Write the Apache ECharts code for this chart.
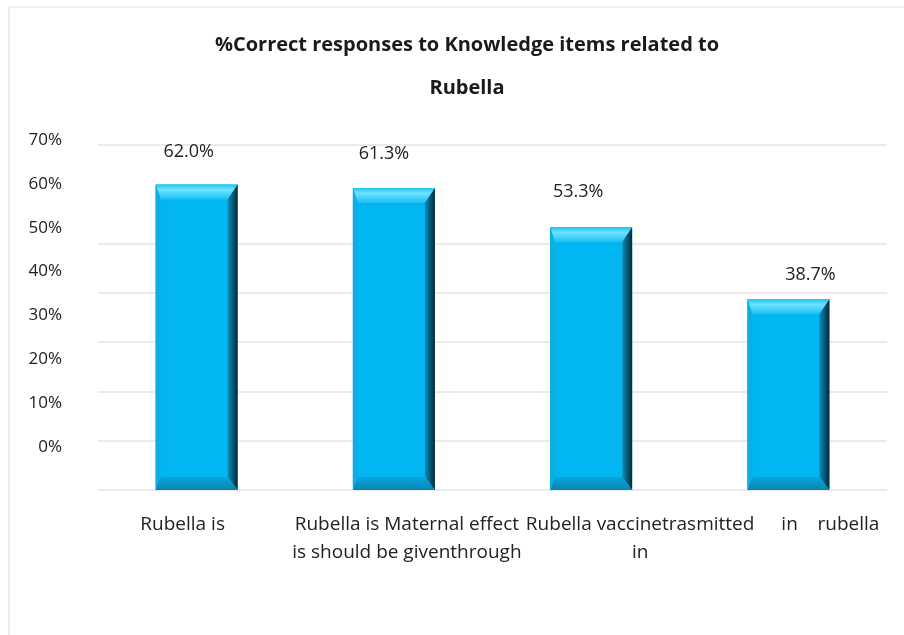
<!DOCTYPE html>
<html>
<head>
<meta charset="utf-8">
<script src="https://cdn.jsdelivr.net/npm/echarts@6/dist/echarts.min.js"></script>
<style>
  html, body { margin: 0; padding: 0; background: #fff; }
  #frame { position: absolute; left: 8px; top: 6px; width: 900px; height: 640px; border-left: 2px solid #ececec; border-top: 2px solid #f0f0f0; pointer-events: none; }
  #chart { position: absolute; left: 0; top: 0; width: 904px; height: 635px; }
</style>
</head>
<body>
<div id="chart"></div>
<div id="frame"></div>
<script>
// ---- data ----
const categories = [
  "Rubella is",
  "Rubella is Maternal effect\nis should be giventhrough",
  "Rubella vaccinetrasmitted\nin",
  "in    rubella"
];
const values = [62.0, 61.3, 53.3, 38.7];
const tickLabels = ["0%", "10%", "20%", "30%", "40%", "50%", "60%", "70%"];
const titleText = "%Correct responses to Knowledge items related to\nRubella";

// ---- styling ----
const FONT = "Open Sans";
const BAR_RATIO = 0.416;
const catPad = [[0, 28, 0, 0], [0, 0, 0, 26], [0, 0, 0, 98], [0, 0, 0, 84]];
const labelOffsets = [[-8, -19], [-10, -20], [-13, -21], [22, -10]];
const gridColors = ['#e3e3e3', '#e3e3e3', '#e3e3e3', '#e3e3e3', '#e3e3e3', '#e3e3e3', 'rgba(0,0,0,0)', '#e3e3e3'];

const chart = echarts.init(document.getElementById('chart'), null, { renderer: 'canvas' });

function bevel(params, api) {
  const idx = api.value(0), v = api.value(1);
  const top = api.coord([idx, v]);
  const base = api.coord([idx, 0]);
  const w = api.size([1, 0])[0] * BAR_RATIO;
  const x0 = top[0] - w / 2, x1 = top[0] + w / 2, y0 = top[1], y1 = base[1];
  const bt = 15, br = 10, bb = 13, bl = 5;
  const G = echarts.graphic;
  return {
    type: 'group',
    silent: true,
    children: [
      { type: 'polygon', shape: { points: [[x0, y0], [x1, y0], [x1 - br, y0 + bt], [x0 + bl, y0 + bt]] },
        style: { fill: new G.LinearGradient(0, 0, 0, 1, [
          { offset: 0, color: '#1cc3f2' }, { offset: 0.35, color: '#6ee3ff' }, { offset: 1, color: '#18c0f6' }]) } },
      { type: 'polygon', shape: { points: [[x1, y0], [x1, y1], [x1 - br, y1 - bb], [x1 - br, y0 + bt]] },
        style: { fill: new G.LinearGradient(0, 0, 1, 0, [
          { offset: 0, color: '#0a8fbf' }, { offset: 0.6, color: '#06506c' }, { offset: 1, color: '#042a3a' }]) } },
      { type: 'polygon', shape: { points: [[x0, y1], [x1, y1], [x1 - br, y1 - bb], [x0 + bl, y1 - bb]] },
        style: { fill: new G.LinearGradient(0, 0, 0, 1, [
          { offset: 0, color: '#0aa6da' }, { offset: 1, color: '#0784b2' }]) } },
      { type: 'polygon', shape: { points: [[x0, y0], [x0 + bl, y0 + bt], [x0 + bl, y1 - bb], [x0, y1]] },
        style: { fill: '#0eaee2' } }
    ]
  };
}

const option = {
  backgroundColor: 'transparent',
  animation: false,
  title: {
    text: titleText,
    left: 462,
    textAlign: 'center',
    top: 19,
    textStyle: { fontFamily: FONT, fontWeight: 'bold', fontSize: 20, color: '#1a1a1a', lineHeight: 43 }
  },
  grid: [
    { left: 98, right: 17, top: 145, bottom: 145 },
    { left: 70, right: 17, top: 140, bottom: 188 }
  ],
  xAxis: [
    {
      type: 'category', gridIndex: 0,
      data: categories.map((c, i) => ({ value: c, textStyle: { padding: catPad[i] } })),
      axisLine: { show: false }, axisTick: { show: false },
      axisLabel: { interval: 0, margin: 21, fontFamily: FONT, fontSize: 19, color: '#222', lineHeight: 28 }
    },
    { type: 'category', gridIndex: 1, data: categories, show: false }
  ],
  yAxis: [
    {
      type: 'value', gridIndex: 0, min: 0, max: 70, interval: 10,
      axisLabel: { show: false }, axisLine: { show: false }, axisTick: { show: false },
      splitLine: { show: true, lineStyle: { color: gridColors, width: 1.5 } }
    },
    {
      type: 'value', gridIndex: 1, min: 0, max: 70, interval: 10,
      axisLine: { show: false }, axisTick: { show: false }, splitLine: { show: false },
      axisLabel: {
        margin: 8, fontFamily: FONT, fontSize: 17, color: '#222',
        formatter: (val) => tickLabels[Math.round(val / 10)]
      }
    }
  ],
  series: [
    {
      type: 'bar', xAxisIndex: 0, yAxisIndex: 0,
      barWidth: (BAR_RATIO * 100) + '%',
      data: values.map((v, i) => ({
        value: v,
        label: { offset: labelOffsets[i] }
      })),
      itemStyle: { color: '#02b7f1' },
      label: {
        show: true, position: 'top', distance: 5,
        fontFamily: FONT, fontSize: 18, color: '#222',
        formatter: (p) => p.value.toFixed(1) + '%'
      }
    },
    {
      type: 'custom', xAxisIndex: 0, yAxisIndex: 0,
      renderItem: bevel,
      data: values.map((v, i) => [i, v]),
      silent: true, z: 3
    }
  ]
};
chart.setOption(option);
</script>
</body>
</html>
